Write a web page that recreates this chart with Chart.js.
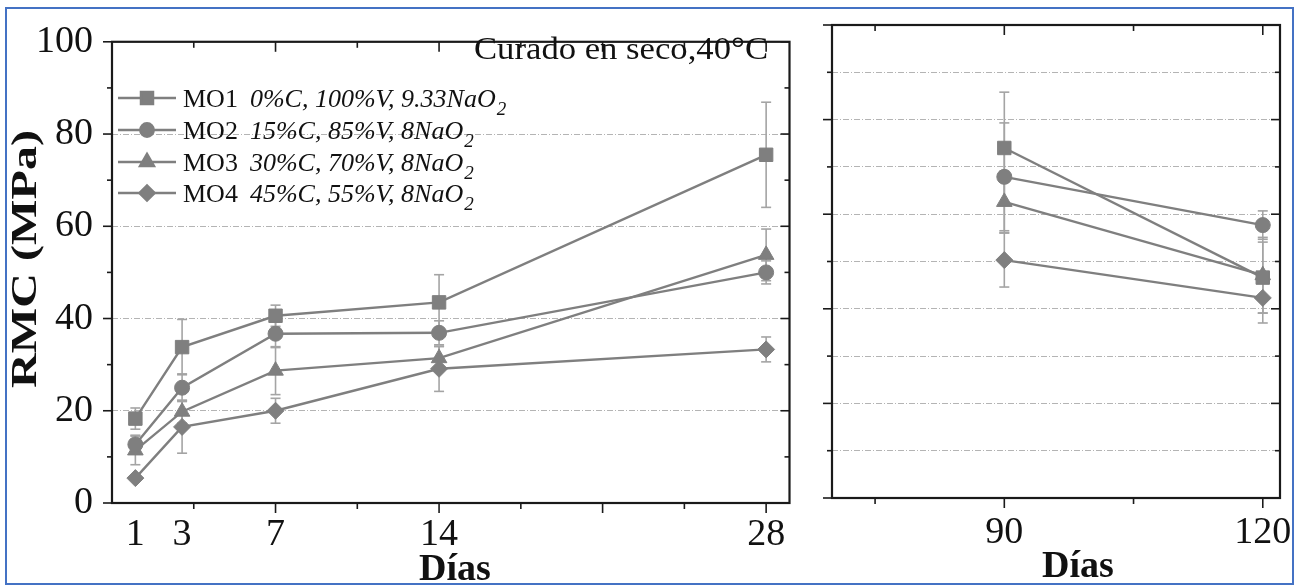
<!DOCTYPE html>
<html>
<head>
<meta charset="utf-8">
<title>RMC vs Días</title>
<script src="https://cdn.jsdelivr.net/npm/chart.js@4.4.1/dist/chart.umd.min.js"></script>
<style>
  html, body { margin: 0; padding: 0; background: #fff; }
  #wrap  { position: relative; width: 1306px; height: 586px; overflow: hidden; background: #fff; }
  #left  { position: absolute; left: 0; top: 0; }
  #right { position: absolute; left: 800px; top: 0; }
  #frame { position: absolute; left: 5px; top: 7px; width: 1289px; height: 578px;
           border: 2px solid #4472c4; box-sizing: border-box; }
</style>
</head>
<body>
<div id="wrap">
  <canvas id="left" width="800" height="586"></canvas>
  <canvas id="right" width="506" height="586"></canvas>
  <div id="frame"></div>
</div>

<script>
/* ─── Data ─── */
const daysEarly = [1, 3, 7, 14, 28];
const daysLate  = [90, 120];

const mo1Early    = [18.3, 33.8, 40.6, 43.5, 75.5];
const mo1EarlyErr = [2.3, 6.0, 2.3, 6.0, 11.4];
const mo2Early    = [12.7, 25.0, 36.7, 36.9, 50.0];
const mo2EarlyErr = [2.0, 3.0, 3.0, 2.6, 2.5];
const mo3Early    = [11.4, 19.8, 28.7, 31.4, 53.8];
const mo3EarlyErr = [3.1, 2.5, 5.2, 2.5, 5.6];
const mo4Early    = [5.4, 16.5, 20.0, 29.1, 33.3];
const mo4EarlyErr = [0, 5.7, 2.7, 4.9, 2.7];

const mo1Late    = [74.0, 46.6];
const mo1LateErr = [11.8, 7.5];
const mo2Late    = [67.9, 57.7];
const mo2LateErr = [11.4, 3.0];
const mo3Late    = [62.6, 47.1];
const mo3LateErr = [6.5, 8.0];
const mo4Late    = [50.3, 42.3];
const mo4LateErr = [5.7, 5.3];

const seriesNames = ["MO1", "MO2", "MO3", "MO4"];
const seriesDesc  = ["0%C, 100%V, 9.33NaO", "15%C, 85%V, 8NaO", "30%C, 70%V, 8NaO", "45%C, 55%V, 8NaO"];
const seriesSub   = "2";
const pointStyles = ["rect", "circle", "triangle", "rectRot"];
const pointSizes  = [9.5, 7.5, 9, 8.5];

const yTitle   = "RMC (MPa)";
const xTitle   = "Días";
const noteText = "Curado en seco,40°C";

/* ─── Look ─── */
const GREY  = "#7f7f7f";
const ERR   = "#a4a4a4";
const INK   = "#111";
const SERIF = '"Liberation Serif", "Times New Roman", serif';

/* ─── Helpers ─── */
function makeSets(days, series, errs) {
  return series.map((vals, i) => ({
    label: seriesNames[i],
    data: days.map((d, j) => ({ x: d, y: vals[j] })),
    errors: errs[i],
    borderColor: GREY,
    borderWidth: 2.4,
    backgroundColor: GREY,
    pointStyle: pointStyles[i],
    pointRadius: pointSizes[i],
    pointBackgroundColor: GREY,
    pointBorderColor: GREY,
    pointBorderWidth: 1,
    tension: 0,
    clip: false,
  }));
}

function seg(ctx, x1, y1, x2, y2) {
  ctx.beginPath(); ctx.moveTo(x1, y1); ctx.lineTo(x2, y2); ctx.stroke();
}

/* ─── Error bars (under the markers) ─── */
const errorBars = {
  id: "errorBars",
  beforeDatasetsDraw(chart) {
    const { ctx, scales: { y } } = chart;
    ctx.save();
    ctx.strokeStyle = ERR;
    ctx.lineWidth = 1.6;
    chart.data.datasets.forEach((ds, i) => {
      const meta = chart.getDatasetMeta(i);
      meta.data.forEach((pt, j) => {
        const e = ds.errors[j];
        if (!e) return;
        const v = ds.data[j].y;
        const top = y.getPixelForValue(v + e);
        const bot = y.getPixelForValue(v - e);
        seg(ctx, pt.x, top, pt.x, bot);
        seg(ctx, pt.x - 5, top, pt.x + 5, top);
        seg(ctx, pt.x - 5, bot, pt.x + 5, bot);
      });
    });
    ctx.restore();
  }
};

/* ─── Box frame + major/minor tick marks ─── */
const axisFrame = {
  id: "axisFrame",
  afterDraw(chart, args, o) {
    const { ctx, chartArea: a, scales: { x, y } } = chart;
    ctx.save();
    ctx.strokeStyle = "#1a1a1a";
    ctx.lineWidth = 1.6;
    for (let v = o.xStart; v <= x.max + 1e-6; v += o.xStep) {
      const px = x.getPixelForValue(v);
      const r = v / o.xMajor;
      const len = Math.abs(r - Math.round(r)) < 1e-6 ? 10 : 6;
      seg(ctx, px, a.bottom, px, a.bottom + len);
      seg(ctx, px, a.top, px, a.top + len);
    }
    for (let v = y.min; v <= y.max + 1e-6; v += 10) {
      const py = y.getPixelForValue(v);
      const len = v % 20 === 0 ? 9 : 5;
      seg(ctx, a.left - len, py, a.left, py);
      seg(ctx, a.right, py, a.right - len, py);
    }
    ctx.lineWidth = 2.2;
    ctx.strokeRect(a.left, a.top, a.right - a.left, a.bottom - a.top);
    ctx.restore();
  }
};

/* ─── Titles, note and legend ─── */
const texts = {
  id: "texts",
  afterDraw(chart, args, o) {
    const { ctx } = chart;
    ctx.save();
    ctx.fillStyle = INK;

    // x title
    ctx.font = "bold 38px " + SERIF;
    ctx.textAlign = "center";
    ctx.textBaseline = "alphabetic";
    ctx.fillText(xTitle, o.xTitleX, o.xTitleY);

    if (o.full) {
      // y title, stretched along its length like the original
      ctx.save();
      ctx.translate(27, 259);
      ctx.rotate(-Math.PI / 2);
      ctx.font = "bold 36px " + SERIF;
      const w = ctx.measureText(yTitle).width;
      ctx.scale(258 / w, 1);
      ctx.textBaseline = "middle";
      ctx.fillText(yTitle, 0, 0);
      ctx.restore();

      // note, top right
      ctx.save();
      ctx.font = "32px " + SERIF;
      const nw = ctx.measureText(noteText).width;
      ctx.translate(768, 59);
      ctx.scale(294 / nw, 1);
      ctx.textAlign = "right";
      ctx.fillText(noteText, 0, 0);
      ctx.restore();

      // legend
      const rows = [98, 130, 162, 193];
      rows.forEach((ry, i) => {
        ctx.strokeStyle = GREY;
        ctx.fillStyle = GREY;
        ctx.lineWidth = 2.4;
        seg(ctx, 118, ry, 176, ry);
        if (Chart.helpers && Chart.helpers.drawPoint) {
          Chart.helpers.drawPoint(ctx, { pointStyle: pointStyles[i], radius: pointSizes[i] * 0.9, rotation: 0, borderWidth: 1 }, 147, ry);
        }
        ctx.fillStyle = INK;
        ctx.textAlign = "left";
        ctx.font = "26px " + SERIF;
        const base = ry + 9;
        ctx.fillText(seriesNames[i], 183, base);
        let tx = 183 + ctx.measureText(seriesNames[i]).width + 12;
        ctx.font = "italic 26px " + SERIF;
        ctx.fillText(seriesDesc[i], tx, base);
        tx += ctx.measureText(seriesDesc[i]).width + 1;
        ctx.font = "italic 19px " + SERIF;
        ctx.fillText(seriesSub, tx, base + 8);
      });
    }
    ctx.restore();
  }
};

/* ─── Shared scale pieces ─── */
const tickFont = { family: SERIF, size: 38 };
const gridColor = c => (c.tick && (c.tick.value === 0 || c.tick.value === 100)) ? "rgba(0,0,0,0)" : "#b4b4b4";

function yScale(width, showLabels) {
  return {
    min: 0, max: 100,
    afterFit: s => { s.width = width; },
    grid: { color: gridColor, lineWidth: 1, drawTicks: false },
    border: { display: false, dash: [6, 2, 1, 2] },
    ticks: {
      display: showLabels,
      stepSize: 10,
      padding: 19,
      color: INK,
      font: tickFont,
      callback: v => (v % 20 === 0 ? String(v) : ""),
    },
  };
}

function xScale(min, max, ticks, height, pad) {
  return {
    type: "linear", min, max,
    afterBuildTicks: s => { s.ticks = ticks.map(v => ({ value: v })); },
    afterFit: s => { s.height = height; },
    grid: { display: false, drawTicks: false },
    border: { display: false },
    ticks: { padding: pad, color: INK, font: tickFont, maxRotation: 0, autoSkip: false, callback: v => String(v) },
  };
}

/* ─── Left panel: 1–28 días ─── */
new Chart(document.getElementById("left"), {
  type: "line",
  data: {
    datasets: makeSets(daysEarly,
      [mo1Early, mo2Early, mo3Early, mo4Early],
      [mo1EarlyErr, mo2EarlyErr, mo3EarlyErr, mo4EarlyErr]),
  },
  options: {
    responsive: false,
    animation: false,
    layout: { padding: { top: 23, right: 4, left: 0, bottom: 0 } },
    plugins: {
      legend: { display: false },
      tooltip: { enabled: false },
      axisFrame: { xStart: 3.5, xStep: 3.5, xMajor: 7 },
      texts: { full: true, xTitleX: 455, xTitleY: 580 },
    },
    scales: {
      x: xScale(0, 29, daysEarly, 83, 9),
      y: yScale(112, true),
    },
  },
  plugins: [errorBars, axisFrame, texts],
});

/* ─── Right panel: 90–120 días ─── */
new Chart(document.getElementById("right"), {
  type: "line",
  data: {
    datasets: makeSets(daysLate,
      [mo1Late, mo2Late, mo3Late, mo4Late],
      [mo1LateErr, mo2LateErr, mo3LateErr, mo4LateErr]),
  },
  options: {
    responsive: false,
    animation: false,
    layout: { padding: { top: 25, right: 26, left: 0, bottom: 0 } },
    plugins: {
      legend: { display: false },
      tooltip: { enabled: false },
      axisFrame: { xStart: 75, xStep: 15, xMajor: 30 },
      texts: { full: false, xTitleX: 278, xTitleY: 577 },
    },
    scales: {
      x: xScale(70, 122, daysLate, 88, 12),
      y: yScale(32, false),
    },
  },
  plugins: [errorBars, axisFrame, texts],
});
</script>
</body>
</html>
